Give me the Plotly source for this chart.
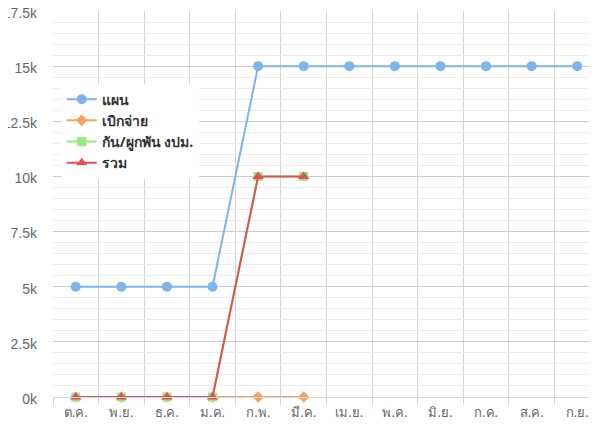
import plotly.graph_objects as go

months = ["ต.ค.", "พ.ย.", "ธ.ค.", "ม.ค.", "ก.พ.", "มี.ค.", "เม.ย.", "พ.ค.", "มิ.ย.", "ก.ค.", "ส.ค.", "ก.ย."]
plan = [5000, 5000, 5000, 5000, 15000, 15000, 15000, 15000, 15000, 15000, 15000, 15000]
disbursed = [0, 0, 0, 0, 0, 0]
committed = [0, 0, 0, 0, 10000, 10000]
total = [0, 0, 0, 0, 10000, 10000]
yticks = [0, 2500, 5000, 7500, 10000, 12500, 15000, 17500]
yticktext = ["0k", "2.5k", "5k", "7.5k", "10k", "12.5k", "15k", "17.5k"]

series = [
    ("แผน", plan, "#7cb5ec", "circle", 10),
    ("เบิกจ่าย", disbursed, "#f7a35c", "diamond", 9),
    ("กัน/ผูกพัน งปม.", committed, "#90ed7d", "square", 9),
    ("รวม", total, "#e05252", "triangle-up", 10),
]

fig = go.Figure()
for name, vals, color, sym, size in series:
    fig.add_trace(go.Scatter(
        x=list(range(len(vals))), y=vals, name=name, mode="lines+markers",
        line=dict(color=color, width=2),
        marker=dict(color=color, symbol=sym, size=size),
        cliponaxis=False,
    ))

fig.update_layout(
    width=597, height=425,
    margin=dict(l=45, r=5, t=3, b=36, autoexpand=False),
    plot_bgcolor="white", paper_bgcolor="white",
    font=dict(family="Noto Sans, DejaVu Sans, sans-serif", color="#666666", size=13),
    showlegend=True,
    legend=dict(
        x=0.016, y=0.812, xanchor="left", yanchor="top",
        bgcolor="white", borderwidth=0,
        font=dict(size=14, color="#333333", weight="bold"),
        tracegroupgap=0,
    ),
    xaxis=dict(
        automargin=False,
        range=[-0.5, 11.5],
        tickmode="array", tickvals=list(range(12)), ticktext=months,
        showgrid=False, zeroline=False,
        showline=True, linecolor="#ccd6eb", linewidth=1,
        ticks="",
        minor=dict(tick0=-0.5, dtick=1, showgrid=True, gridcolor="#d4d4d4", gridwidth=1,
                   ticks="outside", ticklen=7, tickcolor="#ccd6eb"),
        tickfont=dict(size=13, color="#666666"),
        ticklabelstandoff=3,
    ),
    yaxis=dict(
        automargin=False,
        range=[0, 17500],
        tickmode="array", tickvals=yticks, ticktext=yticktext,
        showgrid=True, gridcolor="#cccccc", gridwidth=1,
        zeroline=False, showline=False,
        minor=dict(tick0=0, dtick=500, showgrid=True, gridcolor="#ebebeb", gridwidth=1),
        tickfont=dict(family="Liberation Sans, Arial, sans-serif", size=14, color="#666666"),
        ticklabelstandoff=15,
        ticklabelshift=2,
        ticklabeloverflow="allow",
    ),
)

fig.write_html("out.html")
